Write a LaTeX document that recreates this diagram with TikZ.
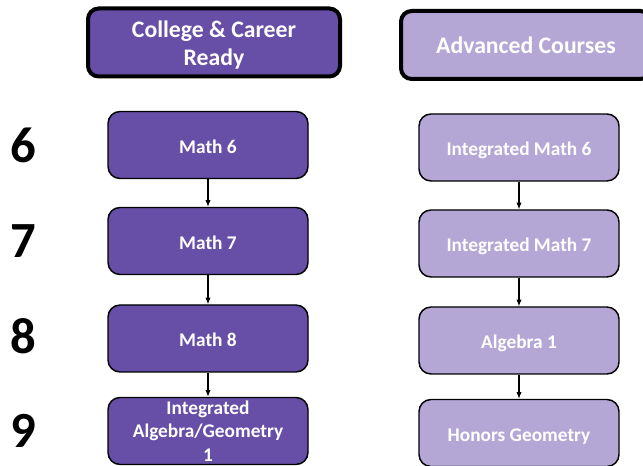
\documentclass[tikz,border=0pt]{standalone}
\usepackage{fontspec}
\setmainfont{Carlito}
\usetikzlibrary{arrows.meta}
\definecolor{darkp}{HTML}{674EA7}
\definecolor{lightp}{HTML}{B4A7D6}
\begin{document}
\begin{tikzpicture}[x=0.75pt,y=-0.75pt,
  course/.style={draw=black,line width=1.1pt,rounded corners=9pt,text=white,font=\bfseries\fontsize{14.5}{17.5}\selectfont,align=flush center,minimum width=200*0.75pt,minimum height=67*0.75pt,inner sep=0pt,text width=196*0.75pt},
  oneline/.style={text height=12.6pt,text depth=0pt},
  head/.style={draw=black,line width=3pt,rounded corners=8pt,text=white,font=\bfseries\fontsize{17.8}{21}\selectfont,align=flush center,inner sep=0pt},
  grade/.style={font=\bfseries\fontsize{38}{40}\selectfont,inner sep=0pt},
  link/.style={-{Latex[length=5pt,width=4pt]},line width=0.8pt}]
\useasboundingbox (0,0) rectangle (643,466);
% headers
\node[head,fill=darkp,minimum width=252*0.75pt,minimum height=68*0.75pt,text height=34.8pt,text depth=0pt] (h1) at (214,42.5) {College \& Career\\Ready};
\node[head,fill=lightp,minimum width=250*0.75pt,minimum height=68*0.75pt,anchor=west,text height=12.4pt,text depth=0pt] (h2) at (399,45) {Advanced Courses};
% grades
\node[grade] (g6) at (23,145) {6};
\node[grade] (g7) at (23,241) {7};
\node[grade] (g8) at (23,336) {8};
\node[grade] (g9) at (23,431) {9};
% left column
\node[course,oneline,fill=darkp] (a1) at (208,145) {Math 6};
\node[course,oneline,fill=darkp] (a2) at (208,241) {Math 7};
\node[course,oneline,fill=darkp] (a3) at (208,338.5) {Math 8};
\node[course,fill=darkp] (a4) at (208,431) {Integrated\\Algebra/Geometry\\1};
% right column
\node[course,oneline,fill=lightp] (b1) at (519,147.5) {Integrated Math 6};
\node[course,oneline,fill=lightp] (b2) at (519,243.5) {Integrated Math 7};
\node[course,oneline,fill=lightp] (b3) at (519,340.5) {Algebra 1};
\node[course,oneline,fill=lightp] (b4) at (519,433) {Honors Geometry};
% arrows
\draw[link] (a1) -- (a2);
\draw[link] (a2) -- (a3);
\draw[link] (a3) -- (a4);
\draw[link] (b1) -- (b2);
\draw[link] (b2) -- (b3);
\draw[link] (b3) -- (b4);
\end{tikzpicture}
\end{document}
